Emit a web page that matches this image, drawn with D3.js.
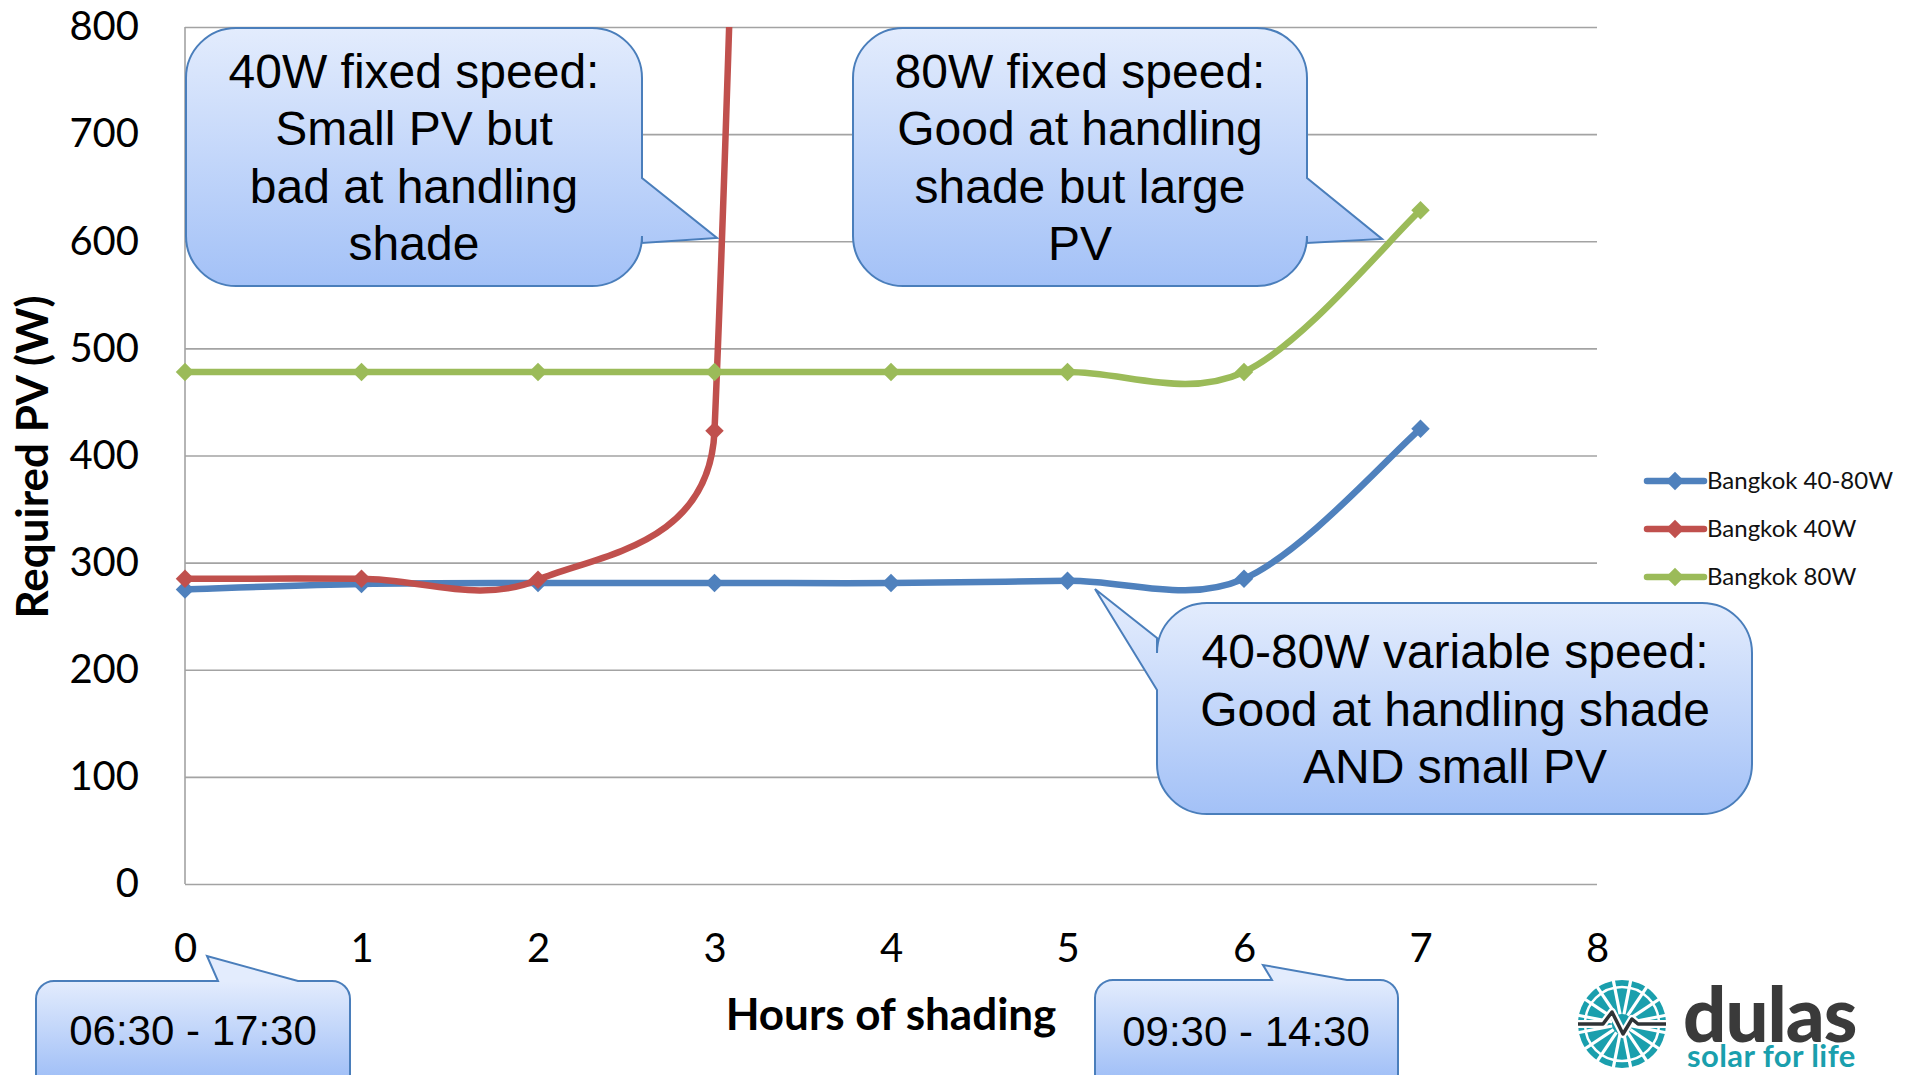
<!DOCTYPE html>
<html>
<head>
<meta charset="utf-8">
<script src="https://cdn.jsdelivr.net/npm/d3@7"></script>
<style>
  body { margin: 0; background: #fff; }
  svg { display: block; }
</style>
</head>
<body>
<div class="canvas"></div>
<script>
// data
const hours = [0, 1, 2, 3, 4, 5, 6, 7];
const xTicks = [0, 1, 2, 3, 4, 5, 6, 7, 8];
const yTicks = [0, 100, 200, 300, 400, 500, 600, 700, 800];
const seriesNames = ['Bangkok 40-80W', 'Bangkok 40W', 'Bangkok 80W'];
const bangkok4080 = [275, 280, 281, 281, 281, 283, 285, 425];
// 40W runs off the top of the chart after 3h, last value is an estimate
const bangkok40 = [285, 285, 284, 423, 8000];
const bangkok80 = [478, 478, 478, 478, 478, 478, 478, 629];
const colors = ['#4f81bd', '#c0504d', '#9bbb59'];

const svgWidth = 1910;
const svgHeight = 1075;
const plot = { left: 185, right: 1597, top: 27, bottom: 884 };

const svg = d3.select('.canvas')
  .append('svg')
    .attr('width', svgWidth)
    .attr('height', svgHeight)
    .style('background', '#fff');

const x = d3.scaleLinear().domain([0, 8]).range([plot.left, plot.right]);
const y = d3.scaleLinear().domain([0, 800]).range([plot.bottom, plot.top]);

// Excel style smoothing: Catmull-Rom bezier, handles capped at half the segment
function ExcelSmooth(context) { this._context = context; }
ExcelSmooth.prototype = {
  areaStart() {},
  areaEnd() {},
  lineStart() { this._pts = []; },
  point(px, py) { this._pts.push([+px, +py]); },
  lineEnd() {
    const p = this._pts, c = this._context;
    if (!p.length) return;
    c.moveTo(p[0][0], p[0][1]);
    for (let i = 0; i < p.length - 1; i++) {
      const p0 = p[Math.max(i - 1, 0)], p1 = p[i], p2 = p[i + 1], p3 = p[Math.min(i + 2, p.length - 1)];
      const half = Math.hypot(p2[0] - p1[0], p2[1] - p1[1]) / 2;
      let ax = (p2[0] - p0[0]) / 6, ay = (p2[1] - p0[1]) / 6;
      let bx = (p3[0] - p1[0]) / 6, by = (p3[1] - p1[1]) / 6;
      const la = Math.hypot(ax, ay), lb = Math.hypot(bx, by);
      if (la > half) { ax *= half / la; ay *= half / la; }
      if (lb > half) { bx *= half / lb; by *= half / lb; }
      c.bezierCurveTo(p1[0] + ax, p1[1] + ay, p2[0] - bx, p2[1] - by, p2[0], p2[1]);
    }
  }
};
const curveExcel = ctx => new ExcelSmooth(ctx);

// gridlines + y axis
const yAxis = d3.axisLeft(y)
  .tickValues(yTicks)
  .tickSize(-(plot.right - plot.left))
  .tickPadding(46);

const yAxisGroup = svg.append('g')
  .attr('transform', `translate(${plot.left}, 0)`)
  .call(yAxis);
yAxisGroup.select('.domain').remove();
yAxisGroup.selectAll('line').attr('stroke', '#a3a3a3').attr('stroke-width', 1.6);
yAxisGroup.selectAll('text')
  .attr('font-family', 'Lato, sans-serif')
  .attr('font-size', 40)
  .attr('fill', '#000');

svg.append('line')
  .attr('x1', plot.left).attr('x2', plot.left)
  .attr('y1', plot.top).attr('y2', plot.bottom)
  .attr('stroke', '#a3a3a3').attr('stroke-width', 1.6);

// x axis
const xAxis = d3.axisBottom(x)
  .tickValues(xTicks)
  .tickSize(0)
  .tickPadding(50);
const xAxisGroup = svg.append('g')
  .attr('transform', `translate(0, ${plot.bottom})`)
  .call(xAxis);
xAxisGroup.select('.domain').remove();
xAxisGroup.selectAll('text')
  .attr('font-family', 'Lato, sans-serif')
  .attr('font-size', 40)
  .attr('fill', '#000');

// axis titles
svg.append('text')
  .attr('transform', 'translate(48, 457) rotate(-90)')
  .attr('text-anchor', 'middle')
  .attr('font-family', 'Lato, sans-serif')
  .attr('font-weight', 'bold')
  .attr('font-size', 44)
  .text('Required PV (W)');

svg.append('text')
  .attr('x', 891).attr('y', 1030)
  .attr('text-anchor', 'middle')
  .attr('font-family', 'Lato, sans-serif')
  .attr('font-weight', 'bold')
  .attr('font-size', 44)
  .text('Hours of shading');

// series
svg.append('clipPath').attr('id', 'plot-clip')
  .append('rect')
    .attr('x', plot.left - 14).attr('y', plot.top)
    .attr('width', plot.right - plot.left + 28)
    .attr('height', plot.bottom - plot.top + 14);

const series = [bangkok4080, bangkok40, bangkok80].map((vals, i) => ({
  name: seriesNames[i],
  color: colors[i],
  points: vals.map((v, j) => ({ h: hours[j], v }))
}));

const line = d3.line()
  .x(d => x(d.h))
  .y(d => y(d.v))
  .curve(curveExcel);

const seriesGroup = svg.append('g').attr('clip-path', 'url(#plot-clip)');
const diamond = d3.symbol().type(d3.symbolSquare).size(170);

series.forEach(s => {
  seriesGroup.append('path')
    .attr('d', line(s.points))
    .attr('fill', 'none')
    .attr('stroke', s.color)
    .attr('stroke-width', 6.5)
    .attr('stroke-linejoin', 'round');
  seriesGroup.selectAll(null)
    .data(s.points.filter(d => d.v <= 800))
    .enter().append('path')
      .attr('d', diamond)
      .attr('transform', d => `translate(${x(d.h)}, ${y(d.v)}) rotate(45)`)
      .attr('fill', s.color);
});

// legend
const legend = svg.append('g').attr('transform', 'translate(1647, 481)');
series.forEach((s, i) => {
  const row = legend.append('g').attr('transform', `translate(0, ${i * 48})`);
  row.append('line')
    .attr('x1', 0).attr('x2', 57)
    .attr('stroke', s.color).attr('stroke-width', 6.5).attr('stroke-linecap', 'round');
  row.append('path')
    .attr('d', diamond)
    .attr('transform', 'translate(28, 0) rotate(45)')
    .attr('fill', s.color);
  row.append('text')
    .attr('x', 60).attr('dy', '0.35em')
    .attr('font-family', 'Lato, sans-serif')
    .attr('font-size', 24)
    .attr('fill', '#111')
    .text(s.name);
});

// callouts
const callouts = [
  { box: [186, 28, 642, 286], r: 50, side: 'right', base: [178, 243], tip: [717, 238],
    cx: 414, y0: 88, lh: 57.3, size: 48,
    lines: ['40W fixed speed:', 'Small PV but', 'bad at handling', 'shade'] },
  { box: [853, 28, 1307, 286], r: 50, side: 'right', base: [178, 243], tip: [1382, 239],
    cx: 1080, y0: 88, lh: 57.3, size: 48,
    lines: ['80W fixed speed:', 'Good at handling', 'shade but large', 'PV'] },
  { box: [1157, 603, 1752, 814], r: 50, side: 'left', base: [638, 690], tip: [1095, 589],
    cx: 1455, y0: 668, lh: 57.5, size: 48,
    lines: ['40-80W variable speed:', 'Good at handling shade', 'AND small PV'] },
  { box: [36, 981, 350, 1110], r: 18, side: 'top', base: [218, 298], tip: [207, 956],
    cx: 193, y0: 1045, lh: 0, size: 42, lines: ['06:30 - 17:30'] },
  { box: [1095, 980, 1398, 1110], r: 18, side: 'top', base: [1272, 1347], tip: [1263, 965],
    cx: 1246, y0: 1046, lh: 0, size: 42, lines: ['09:30 - 14:30'] }
];

function calloutPath(c) {
  const [x0, y0, x1, y1] = c.box, r = c.r, [b1, b2] = c.base, [tx, ty] = c.tip;
  const p = d3.path();
  p.moveTo(x0 + r, y0);
  if (c.side === 'top') { p.lineTo(b1, y0); p.lineTo(tx, ty); p.lineTo(b2, y0); }
  p.lineTo(x1 - r, y0);
  p.arcTo(x1, y0, x1, y0 + r, r);
  if (c.side === 'right') { p.lineTo(x1, b1); p.lineTo(tx, ty); p.lineTo(x1, b2); }
  p.lineTo(x1, y1 - r);
  p.arcTo(x1, y1, x1 - r, y1, r);
  p.lineTo(x0 + r, y1);
  p.arcTo(x0, y1, x0, y1 - r, r);
  if (c.side === 'left') { p.lineTo(x0, b2); p.lineTo(tx, ty); p.lineTo(x0, b1); }
  p.lineTo(x0, y0 + r);
  p.arcTo(x0, y0, x0 + r, y0, r);
  p.closePath();
  return p.toString();
}

const defs = svg.append('defs');
callouts.forEach((c, i) => {
  const grad = defs.append('linearGradient')
    .attr('id', `callout-grad-${i}`)
    .attr('gradientUnits', 'userSpaceOnUse')
    .attr('x1', 0).attr('x2', 0)
    .attr('y1', c.box[1]).attr('y2', Math.min(c.box[3], 1075));
  grad.append('stop').attr('offset', '0%').attr('stop-color', '#e3ecfd');
  grad.append('stop').attr('offset', '100%').attr('stop-color', '#a3c1f7');

  const g = svg.append('g');
  g.append('path')
    .attr('d', calloutPath(c))
    .attr('fill', `url(#callout-grad-${i})`)
    .attr('stroke', '#4a7ebb')
    .attr('stroke-width', 2);
  g.selectAll(null)
    .data(c.lines)
    .enter().append('text')
      .attr('x', c.cx)
      .attr('y', (d, j) => c.y0 + j * c.lh)
      .attr('text-anchor', 'middle')
      .attr('font-family', '"Liberation Sans", Arial, sans-serif')
      .attr('font-size', c.size)
      .attr('fill', '#000')
      .text(d => d);
});

// dulas logo
const logo = svg.append('g').attr('transform', 'translate(1622, 1024)');
logo.append('circle').attr('r', 44).attr('fill', '#1a9fad');
d3.range(16).forEach(k => {
  const a = (k + 0.5) * Math.PI / 8;
  logo.append('line')
    .attr('x1', Math.cos(a) * 10).attr('y1', Math.sin(a) * 10)
    .attr('x2', Math.cos(a) * 45).attr('y2', Math.sin(a) * 45)
    .attr('stroke', '#fff').attr('stroke-width', 3.2);
});
logo.append('circle').attr('r', 37).attr('fill', 'none').attr('stroke', '#fff').attr('stroke-width', 2.5);
const beat = 'M-44,0 L-19,0 L-10,-12 L1,10 L10,-5 L16,0 L44,0';
logo.append('path').attr('d', beat).attr('fill', 'none')
  .attr('stroke', '#fff').attr('stroke-width', 8).attr('stroke-linejoin', 'round');
logo.append('path').attr('d', beat).attr('fill', 'none')
  .attr('stroke', '#2f3336').attr('stroke-width', 3.5).attr('stroke-linejoin', 'round');

svg.append('text')
  .attr('x', 1683).attr('y', 1042)
  .attr('font-family', 'Lato, sans-serif')
  .attr('font-weight', 900)
  .attr('font-size', 76)
  .attr('letter-spacing', -1)
  .attr('fill', '#3a3a3a')
  .text('dulas');

svg.append('text')
  .attr('x', 1687).attr('y', 1067)
  .attr('font-family', 'Lato, sans-serif')
  .attr('font-weight', 'bold')
  .attr('font-size', 31)
  .attr('letter-spacing', 0.4)
  .attr('fill', '#1a9fad')
  .text('solar for life');
</script>
</body>
</html>
